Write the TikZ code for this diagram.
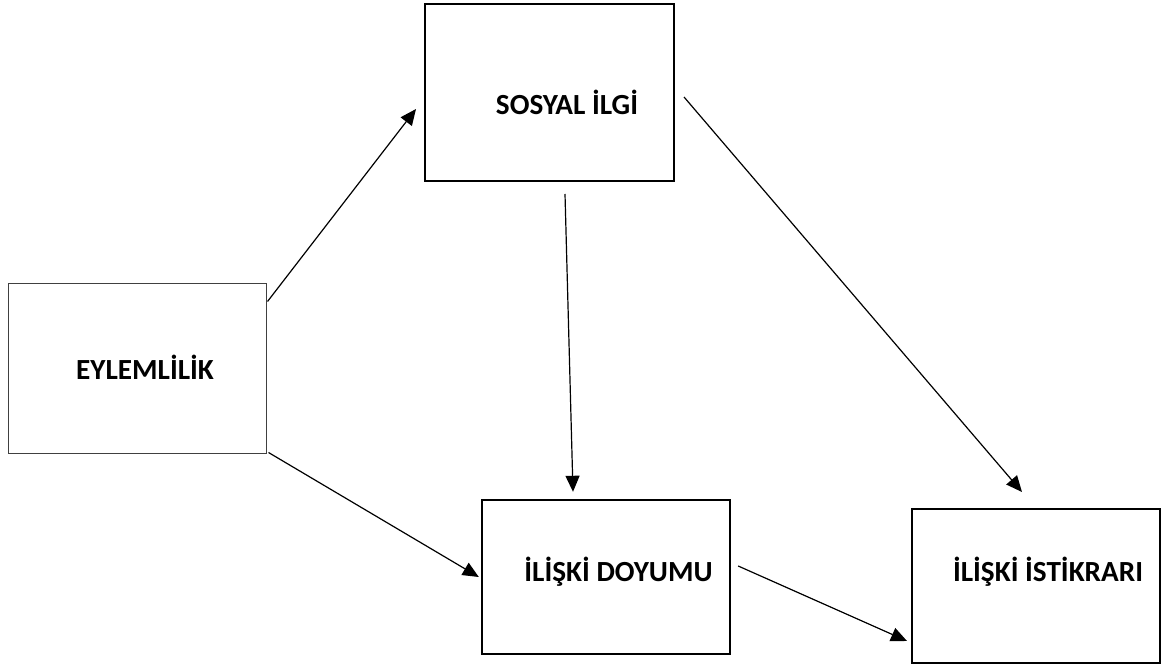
\documentclass[tikz,border=0pt]{standalone}
\usepackage{fontspec}
\setmainfont{Carlito}
\usepackage{tikz}
\usetikzlibrary{arrows.meta,shadows}
\tikzset{
	box/.style={draw,line width=1pt,fill=white,inner sep=0pt,
		drop shadow={shadow xshift=0.6pt,shadow yshift=-0.6pt,fill=black!55,opacity=1}}, % Word-like shadow
	thinbox/.style={box,line width=0.5pt,draw=black!75},
	boxtext/.style={font=\fontsize{14.6}{16}\selectfont\bfseries,inner sep=0pt},
	arrow/.style={line width=0.6pt,-{Triangle[length=8pt,width=7pt]}},
}

\begin{document}
\begin{tikzpicture}[x=0.5pt,y=-0.5pt]
			% page frame in pixel units
			\useasboundingbox (0,0) rectangle (1162,668);
			
			% boxes
			\node[box,minimum width=124.5pt,minimum height=88.5pt] (sosyal) at (549.5,92.5) {};
			\node[thinbox,minimum width=129pt,minimum height=84.5pt] (eylem) at (137,368.5) {};
			\node[box,line width=1.2pt,minimum width=124pt,minimum height=77pt] (doyum) at (606,577) {};
			\node[box,minimum width=124pt,minimum height=77pt] (istikrar) at (1036,586) {};
			
			% texts, a bit off the box centres
			\node[boxtext] (sosyal-t) at ([shift={(17.5,9.5)}]sosyal.center) {SOSYAL İLGİ};
			\node[boxtext] (eylem-t) at ([shift={(8,-1.5)}]eylem.center) {EYLEMLİLİK};
			\node[boxtext] (doyum-t) at ([shift={(12.5,-5)}]doyum.center) {İLİŞKİ DOYUMU};
			\node[boxtext] (istikrar-t) at ([shift={(12,-14)}]istikrar.center) {İLİŞKİ İSTİKRARI};
			
			% paths
			\draw[arrow] ([shift={(1,18)}]eylem.north east) -- ([shift={(-8,16.5)}]sosyal.west);
			\draw[arrow] ([shift={(2,-1)}]eylem.south east) -- ([shift={(-2,0)}]doyum.west);
			\draw[arrow] ([shift={(15.5,12)}]sosyal.south) -- ([shift={(-33,-7)}]doyum.north);
			\draw[arrow] ([shift={(9,4.5)}]sosyal.east) -- ([shift={(-14,-16)}]istikrar.north);
			\draw[arrow] ([shift={(7,-11)}]doyum.east) -- ([shift={(-4,55)}]istikrar.west);
			
\end{tikzpicture}
\end{document}
